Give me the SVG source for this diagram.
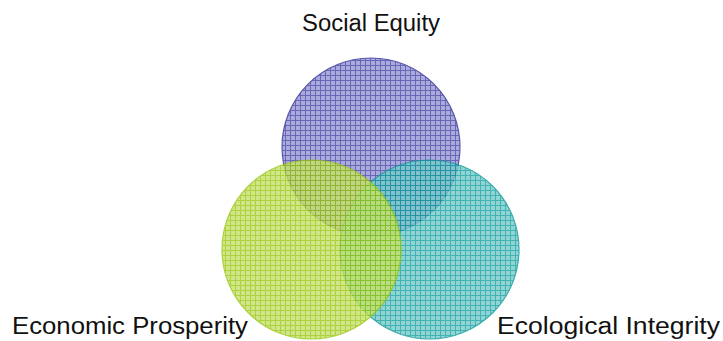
<svg xmlns="http://www.w3.org/2000/svg" width="723" height="341" viewBox="0 0 723 341">
<style>
text{font-family:"Liberation Sans","DejaVu Sans",sans-serif;font-size:23px;fill:#111}
.c{opacity:0.8}
</style>
<defs>
<pattern id="pp" width="5" height="5" patternUnits="userSpaceOnUse">
<rect width="5" height="5" fill="#9595d4"/>
<path d="M0 0.5H5M0.5 0V5" stroke="#4242a4" stroke-width="1"/>
</pattern>
<pattern id="pg" width="5" height="5" patternUnits="userSpaceOnUse">
<rect width="5" height="5" fill="#c6e26a"/>
<path d="M0 0.5H5M0.5 0V5" stroke="#9ac612" stroke-width="1"/>
</pattern>
<pattern id="pt" width="5" height="5" patternUnits="userSpaceOnUse">
<rect width="5" height="5" fill="#76caca"/>
<path d="M0 0.5H5M0.5 0V5" stroke="#14a0a0" stroke-width="1"/>
</pattern>
</defs>
<g id="social-equity">
<circle class="c" cx="371" cy="147" r="89" fill="url(#pp)" stroke="#2e2e96" stroke-width="1.2"/>
<text x="371" y="31" text-anchor="middle" textLength="138" lengthAdjust="spacingAndGlyphs">Social Equity</text>
</g>
<g id="ecological-integrity">
<circle class="c" cx="429.5" cy="249.5" r="89.5" fill="url(#pt)" stroke="#0e9898" stroke-width="1.2"/>
<text x="497" y="334" textLength="223" lengthAdjust="spacingAndGlyphs">Ecological Integrity</text>
</g>
<g id="economic-prosperity">
<circle class="c" cx="311.5" cy="249.5" r="89.5" fill="url(#pg)" stroke="#98c610" stroke-width="1.2"/>
<text x="12" y="334" textLength="236" lengthAdjust="spacingAndGlyphs">Economic Prosperity</text>
</g>
<g id="connectors"/>
</svg>
